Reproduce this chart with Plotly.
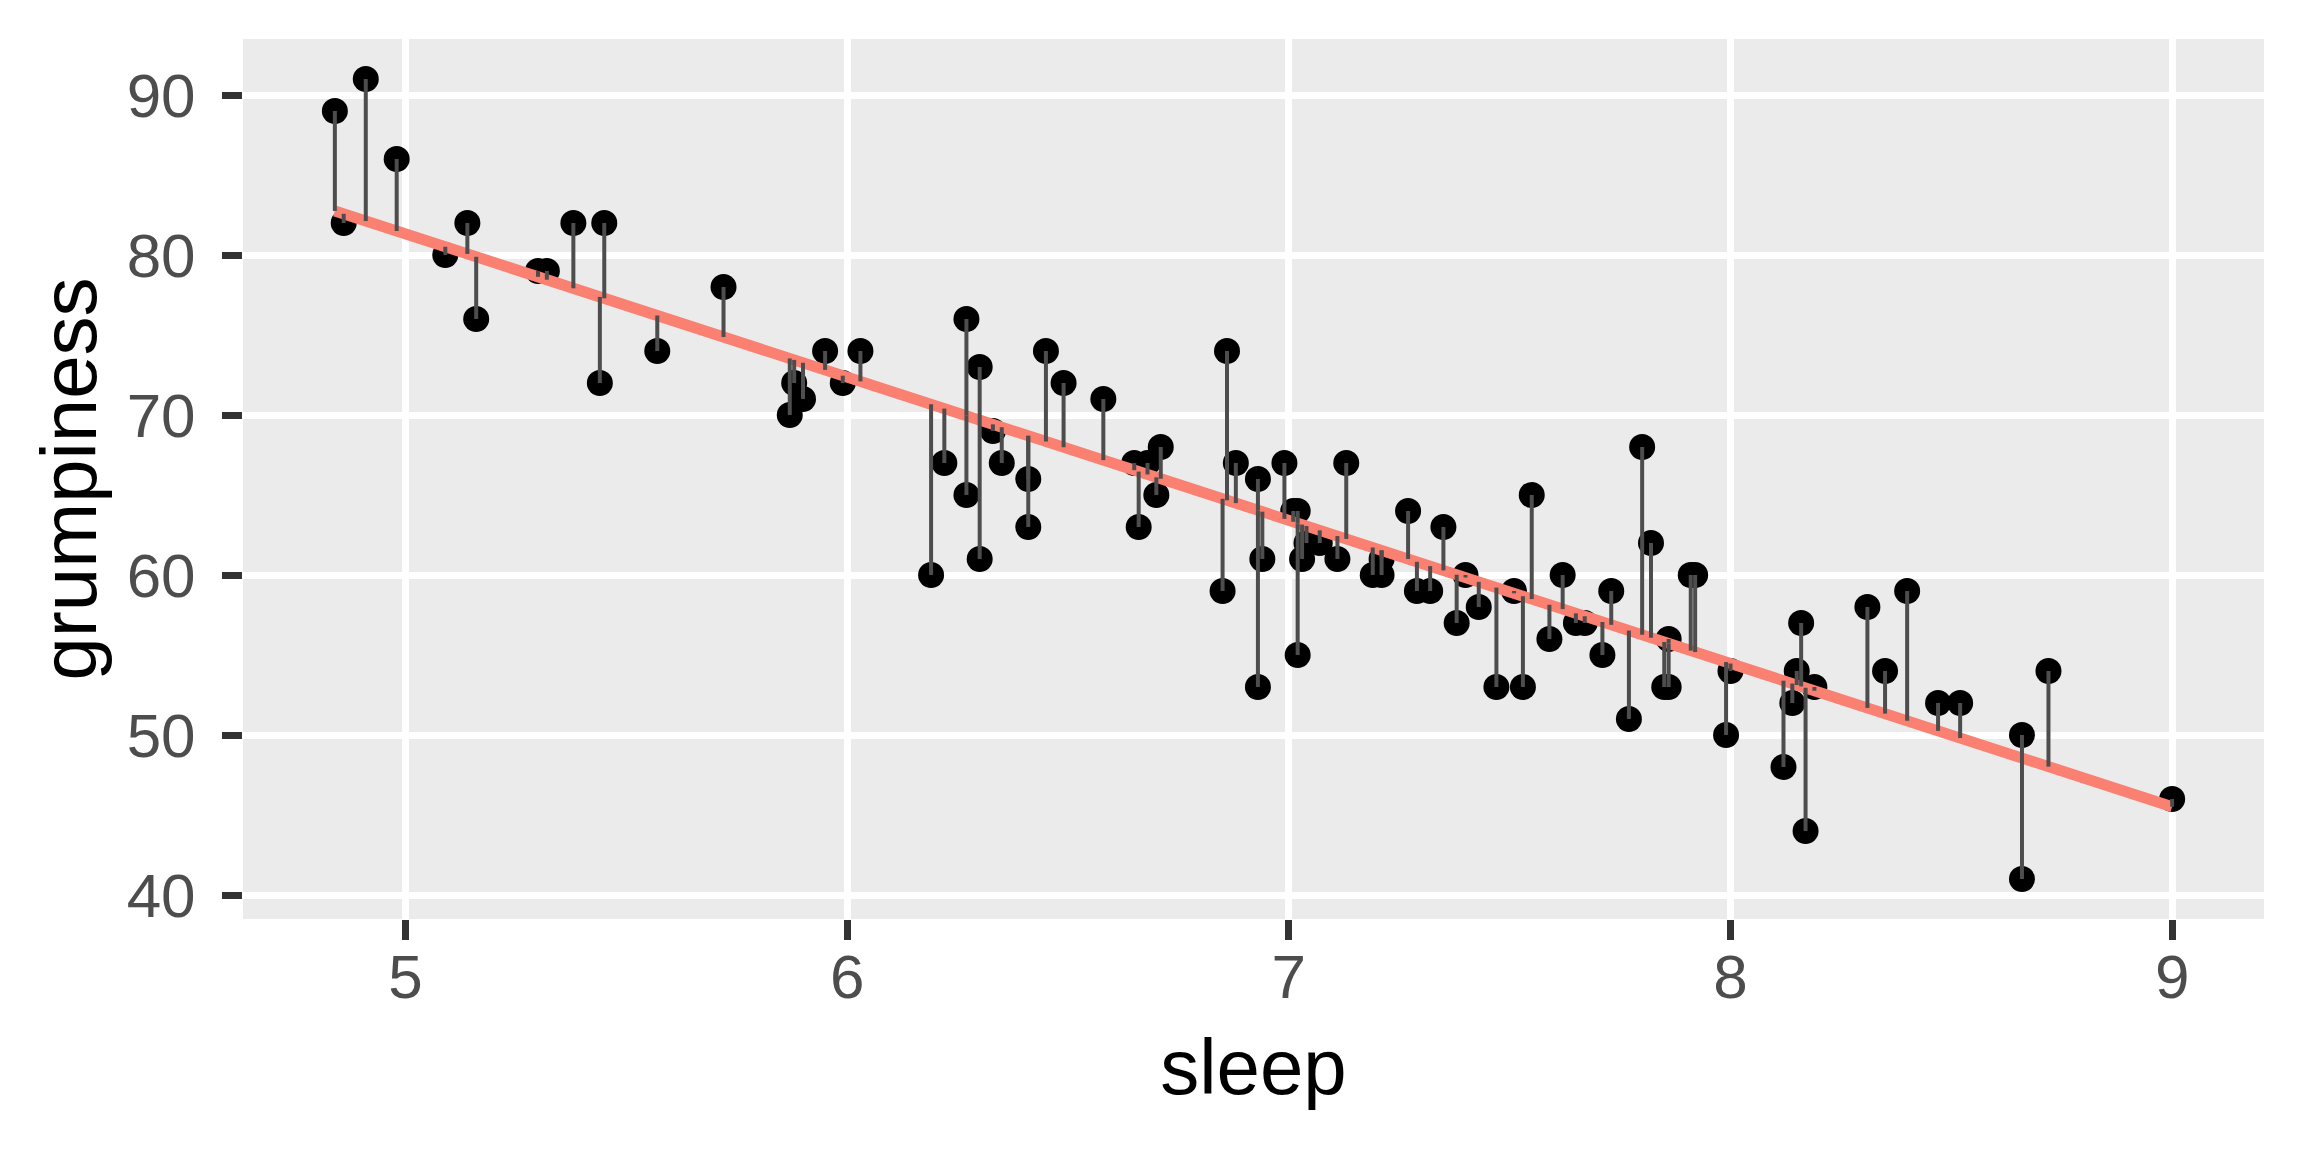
import numpy as np
import plotly.graph_objects as go

sleep = [4.84, 4.86, 4.91, 4.98, 5.09, 5.14, 5.16, 5.30, 5.32, 5.38,
         5.44, 5.45, 5.57, 5.72, 5.87, 5.88, 5.90, 5.95, 5.99, 6.03,
         6.19, 6.22, 6.27, 6.27, 6.30, 6.30, 6.33, 6.35, 6.41, 6.41,
         6.45, 6.49, 6.58, 6.65, 6.66, 6.68, 6.70, 6.71, 6.85, 6.86,
         6.88, 6.93, 6.93, 6.94, 6.99, 7.01, 7.02, 7.02, 7.03, 7.04,
         7.07, 7.11, 7.13, 7.19, 7.21, 7.21, 7.27, 7.29, 7.32, 7.35,
         7.38, 7.40, 7.43, 7.47, 7.51, 7.53, 7.55, 7.59, 7.62, 7.65,
         7.67, 7.71, 7.73, 7.77, 7.80, 7.82, 7.85, 7.86, 7.86, 7.91,
         7.92, 7.99, 8.00, 8.12, 8.14, 8.15, 8.16, 8.17, 8.19, 8.31,
         8.35, 8.40, 8.47, 8.52, 8.66, 8.66, 8.72, 9.00]
grumpiness = [89, 82, 91, 86, 80, 82, 76, 79, 79, 82,
              72, 82, 74, 78, 70, 72, 71, 74, 72, 74,
              60, 67, 76, 65, 73, 61, 69, 67, 66, 63,
              74, 72, 71, 67, 63, 67, 65, 68, 59, 74,
              67, 66, 53, 61, 67, 64, 64, 55, 61, 62,
              62, 61, 67, 60, 60, 61, 64, 59, 59, 63,
              57, 60, 58, 53, 59, 53, 65, 56, 60, 57,
              57, 55, 59, 51, 68, 62, 53, 53, 56, 60,
              60, 50, 54, 48, 52, 54, 57, 44, 53, 58,
              54, 59, 52, 52, 50, 41, 54, 46]
x_ticks = [5, 6, 7, 8, 9]
y_ticks = [40, 50, 60, 70, 80, 90]

xs = np.array(sleep)
ys = np.array(grumpiness, dtype=float)
b1, b0 = np.polyfit(xs, ys, 1)
yhat = b0 + b1 * xs

seg_x, seg_y = [], []
for xi, yi, fi in zip(xs, ys, yhat):
    seg_x += [xi, xi, None]
    seg_y += [yi, fi, None]

order = np.argsort(xs)

fig = go.Figure()
fig.add_trace(go.Scatter(x=sleep, y=grumpiness, mode="markers",
                         marker=dict(color="black", size=26, line=dict(width=0)),
                         showlegend=False, hoverinfo="skip"))
fig.add_trace(go.Scatter(x=xs[order], y=yhat[order], mode="lines",
                         line=dict(color="#FA8072", width=11),
                         showlegend=False, hoverinfo="skip"))
fig.add_trace(go.Scatter(x=seg_x, y=seg_y, mode="lines",
                         line=dict(color="#4D4D4D", width=4),
                         showlegend=False, hoverinfo="skip"))

font_family = "Liberation Sans, Arial, sans-serif"
axis_common = dict(
    showgrid=True, gridcolor="white", gridwidth=7,
    zeroline=False, showline=False,
    ticks="outside", ticklen=20, tickwidth=7, tickcolor="#333333",
    tickfont=dict(family=font_family, size=62, color="#4D4D4D"),
)

fig.update_layout(
    width=2304, height=1152,
    margin=dict(l=243, r=40, t=39, b=233, pad=0),
    paper_bgcolor="white", plot_bgcolor="#EBEBEB",
    font=dict(family=font_family),
    xaxis=dict(range=[4.632, 9.208], tickvals=x_ticks,
               ticktext=[str(v) for v in x_ticks],
               title=dict(text="sleep", font=dict(family=font_family, size=78, color="black"), standoff=28),
               ticklabelstandoff=-16,
               **axis_common),
    yaxis=dict(range=[38.5, 93.5], tickvals=y_ticks,
               ticktext=[str(v) for v in y_ticks],
               title=dict(text="grumpiness", font=dict(family=font_family, size=78, color="black"), standoff=4),
               ticklabelstandoff=14,
               **axis_common),
)

fig.write_html("out.html",
               config={"displayModeBar": False},
               post_script="document.body.style.margin='0';document.body.style.overflow='hidden';")
